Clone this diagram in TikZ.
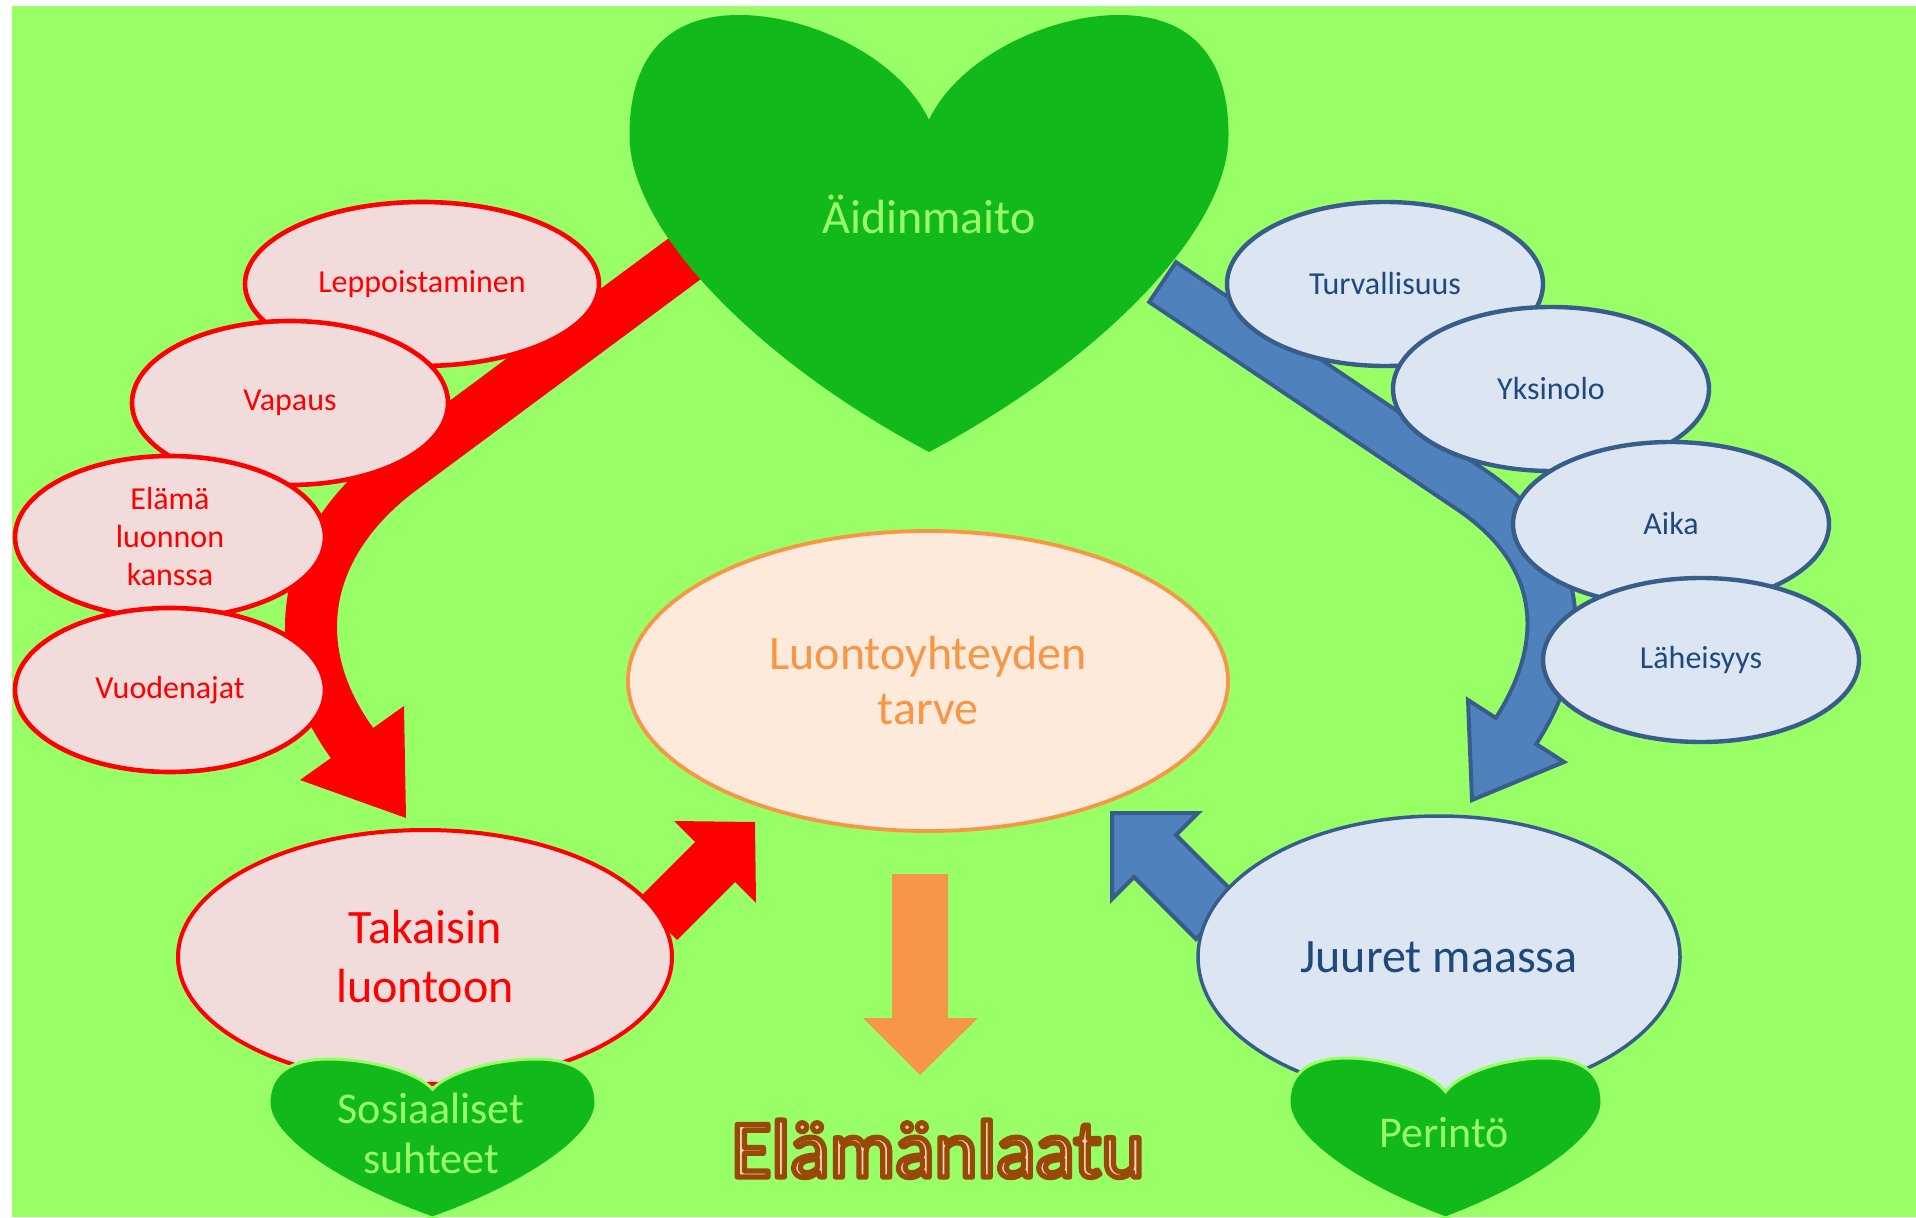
\documentclass[tikz,border=0pt]{standalone}
\usepackage{fontspec}
\setmainfont{Carlito}
\usetikzlibrary{shapes.geometric}
\definecolor{bggreen}{HTML}{99FF66}
\definecolor{heartgreen}{HTML}{11B91B}
\definecolor{redfill}{HTML}{F2DCDB}
\definecolor{bluefill}{HTML}{DCE6F2}
\definecolor{bluestroke}{HTML}{385D8A}
\definecolor{bluearrow}{HTML}{4F81BD}
\definecolor{bluetext}{HTML}{1F497D}
\definecolor{orangec}{HTML}{F79646}
\definecolor{orangefill}{HTML}{FDEADA}
\definecolor{peach}{HTML}{FBD4B4}
% cx, top, halfwidth, height, notch depth (unit), style
\newcommand{\drawheart}[6]{%
  \begin{scope}[shift={(#1,#2)},xscale=#3,yscale=#4]
    \path[#6] (0,#5) .. controls (-0.1,{#5*0.4}) and (-0.4,0) .. (-0.634,0)
      .. controls (-0.88,0) and (-1,0.1) .. (-1,0.275)
      .. controls (-1,0.5) and (-0.55,0.8) .. (0,1)
      .. controls (0.55,0.8) and (1,0.5) .. (1,0.275)
      .. controls (1,0.1) and (0.88,0) .. (0.634,0)
      .. controls (0.4,0) and (0.1,{#5*0.4}) .. (0,#5) -- cycle;
  \end{scope}}
\begin{document}
\begin{tikzpicture}[x=0.5pt,y=-0.5pt,
  redell/.style={ellipse, draw=red, fill=redfill, line width=2.3pt, text=red, inner sep=0pt, align=center, font=\fontsize{16}{19}\selectfont},
  blueell/.style={ellipse, draw=bluestroke, fill=bluefill, line width=2.2pt, text=bluetext, inner sep=0pt, align=center, font=\fontsize{16}{19}\selectfont},
  bigtext/.style={inner sep=0pt, align=center, font=\fontsize{24}{28}\selectfont},
  hearttext/.style={inner sep=0pt, align=center, text=bggreen, font=\fontsize{22}{25}\selectfont},
  bluearr/.style={fill=bluearrow, draw=bluestroke, line width=2pt, line join=miter}
]
\useasboundingbox (0,0) rectangle (1916,1218);
\fill[white] (0,0) rectangle (1916,1218);
\fill[bggreen] (12,6) rectangle (1916,1217);

% red curved arrow
\coordinate (rs) at (687,257);
\coordinate (rk) at (400,470);
\coordinate (rm) at (352,743);
\draw[red, line width=26pt] (rs) -- (rk) .. controls (304,542) and (282,646) .. (rm) -- (355,747);
\fill[red] (404,706) -- (406,818) -- (300,780) -- cycle;

% big heart
\drawheart{929}{15}{299.5}{437}{0.24}{fill=heartgreen}

% blue curved arrow
\coordinate (bs) at (1161,281);
\coordinate (bk) at (1470,489);
\coordinate (bm) at (1516,731);
\draw[bluestroke, line width=26pt] (bs) -- (bk) .. controls (1561,550) and (1575,639) .. (bm);
\filldraw[bluearr] (1564,762) -- (1472,800) -- (1468,700) -- cycle;
\draw[bluearrow, line width=22pt, shorten <=2pt] (bs) -- (bk) .. controls (1561,550) and (1575,639) .. (bm) -- (1513.3,735.2);

% red small ellipses
\node[redell, minimum width=177pt, minimum height=82pt] (lepp) at (422,284) {Leppoistaminen};
\node[redell, minimum width=158pt, minimum height=82pt] (vapaus) at (290,403) {Vapaus};
\node[redell, minimum width=155pt, minimum height=81pt] (elama) at (170,537) {Elämä\\luonnon\\kanssa};
\node[redell, minimum width=155pt, minimum height=82pt] (vuoden) at (170,690) {Vuodenajat};

% blue small ellipses
\node[blueell, minimum width=158pt, minimum height=82pt] (turv) at (1385,284) {Turvallisuus};
\node[blueell, minimum width=158pt, minimum height=82pt] (yksin) at (1551,389) {Yksinolo};
\node[blueell, minimum width=158pt, minimum height=82pt] (aika) at (1671,524) {Aika};
\node[blueell, minimum width=158pt, minimum height=82pt] (lah) at (1701,660) {Läheisyys};

% center ellipse
\node[ellipse, draw=orangec, fill=orangefill, line width=1.9pt, text=orangec, bigtext, minimum width=300pt, minimum height=150pt] (luonto) at (928,681) {Luontoyhteyden\\[-0.5pt]tarve};

% orange arrow
\fill[orangec] (892,874) -- (948,874) -- (948,1018) -- (978,1018) -- (920,1075) -- (863,1018) -- (892,1018) -- cycle;

% straight arrows
\fill[red] (637,900) -- (695,842) -- (674,821) -- (755,822) -- (756,903) -- (735,882) -- (677,940) -- cycle;
\filldraw[bluearr] (1238,897) -- (1176,835) -- (1198,813) -- (1112,813) -- (1112,899) -- (1134,877) -- (1196,939) -- cycle;

% bottom ellipses
\node[ellipse, draw=red, fill=redfill, line width=2pt, text=red, bigtext, font=\fontsize{24}{29.5}\selectfont, minimum width=247pt, minimum height=127pt] (takaisin) at (425,957) {Takaisin\\luontoon};
\node[ellipse, draw=bluestroke, fill=bluefill, line width=1.75pt, text=bluetext, bigtext, minimum width=241pt, minimum height=141pt] (juuret) at (1439,957) {Juuret maassa};

% small hearts
\drawheart{432.5}{1059}{163.5}{159}{0.19}{fill=heartgreen, draw=bggreen, line width=1.5pt}
\drawheart{1445.5}{1058}{156.5}{160}{0.21}{fill=heartgreen, draw=bggreen, line width=1.5pt}

% texts
\node[bigtext, text=bggreen] (aidin) at (929,214) {Äidinmaito};
\node[hearttext] (sos) at (431,1133) {Sosiaaliset\\suhteet};
\node[hearttext] (perinto) at (1444,1133) {Perintö};
\node[text=peach, font=\fontsize{41}{49}\selectfont, inner sep=0pt, anchor=base] (title) at (938,1177) {\special{pdf:literal direct 2 Tr 2.6 w 1 j 0.596 0.282 0.027 RG}Elämänlaatu\special{pdf:literal direct 0 Tr}};
\end{tikzpicture}
\end{document}
